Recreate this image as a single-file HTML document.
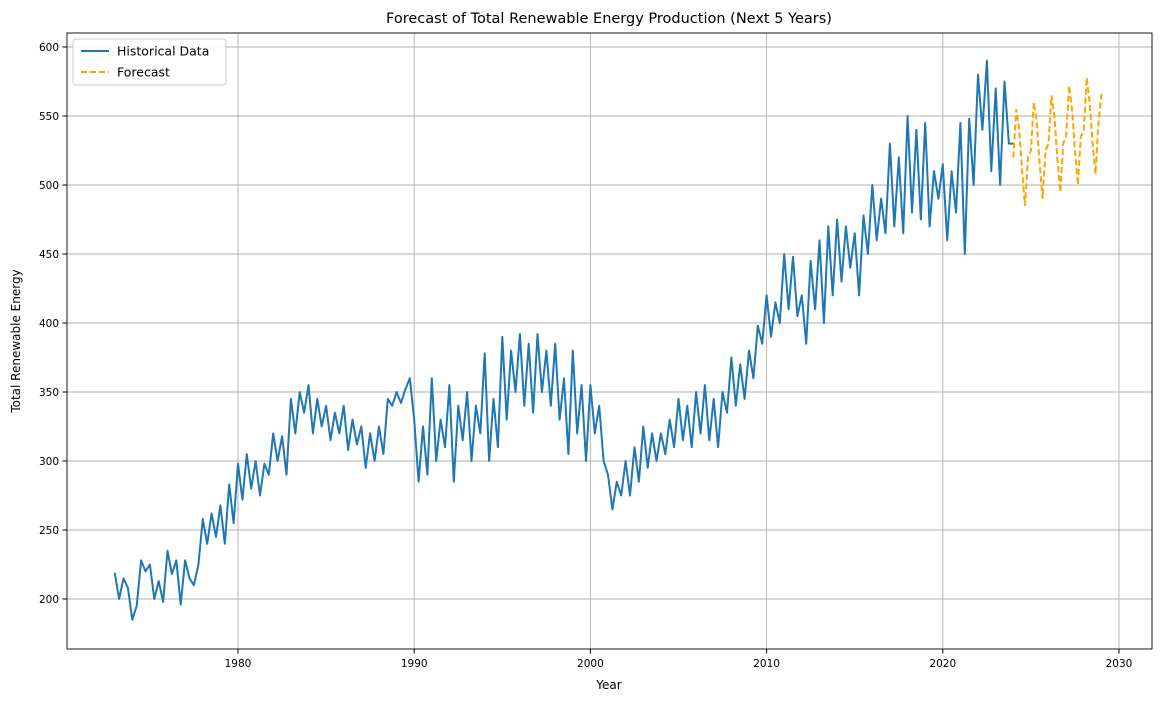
<!DOCTYPE html>
<html><head><meta charset="utf-8"><style>
body{margin:0;background:#fff;font-family:"Liberation Sans","DejaVu Sans",sans-serif;}
</style></head><body>
<svg id="chart" width="1160" height="701" xmlns="http://www.w3.org/2000/svg" font-family="'DejaVu Sans','Liberation Sans',sans-serif">
<rect width="1160" height="701" fill="#fff"/>
<text x="609" y="23" text-anchor="middle" font-size="14.5">Forecast of Total Renewable Energy Production (Next 5 Years)</text>
<text x="609" y="689" text-anchor="middle" font-size="12">Year</text>
<text x="20" y="341" text-anchor="middle" font-size="12" transform="rotate(-90 20 341)">Total Renewable Energy</text>
<g id="grid"></g><g id="ticks"></g><g id="series"></g>
<rect x="67" y="33" width="1085" height="616" fill="none" stroke="#000" stroke-width="0.9"/>
<g>
<rect x="73" y="39" width="153" height="46" rx="3" fill="#fff" fill-opacity="0.85" stroke="#ccc"/>
<line x1="81" y1="51" x2="109" y2="51" stroke="#1f77b4" stroke-width="2"/>
<text x="117" y="55.5" font-size="12.5">Historical Data</text>
<line x1="81" y1="72" x2="109" y2="72" stroke="orange" stroke-width="2" stroke-dasharray="6,3"/>
<text x="117" y="76.5" font-size="12.5">Forecast</text>
</g>
</svg>
<script>
const xTicks=[1980,1990,2000,2010,2020,2030];
const yTicks=[200,250,300,350,400,450,500,550,600];
const histStart=1973, histStep=0.25;
const histValues=[219,200,215,208,185,195,228,220,225,200,213,198,235,218,228,196,228,215,210,225,258,240,262,245,268,240,283,255,298,272,305,280,300,275,298,290,320,300,318,290,345,320,350,335,355,320,345,325,340,315,335,320,340,308,330,312,325,295,320,300,325,305,345,340,350,342,352,360,330,285,325,290,360,300,330,310,355,285,340,315,350,300,340,320,378,300,345,310,390,330,380,350,392,340,385,335,392,350,380,340,385,330,360,305,380,320,355,300,355,320,340,300,290,265,285,275,300,275,310,285,325,295,320,300,320,305,330,310,345,315,340,310,350,320,355,315,345,310,350,335,375,340,370,345,380,360,398,385,420,390,415,400,450,410,448,405,420,385,445,410,460,400,470,420,475,430,470,440,465,420,478,450,500,460,490,465,530,470,520,465,550,480,540,475,545,470,510,490,515,460,510,480,545,450,548,500,580,540,590,510,570,500,575,530,530];
const fcStart=2024, fcStep=1/6;
const fcValues=[520,555,540,510,485,520,525,560,545,515,490,525,530,565,550,520,495,530,535,572,555,525,500,535,540,578,560,530,508,545,566];
const X=y=>238+(y-1980)*17.62;
const Y=v=>599-(v-200)*1.38;
const NS="http://www.w3.org/2000/svg";
const mk=(t,a,p)=>{const e=document.createElementNS(NS,t);for(const k in a)e.setAttribute(k,a[k]);p.appendChild(e);return e;};
const grid=document.getElementById('grid'),ticks=document.getElementById('ticks'),ser=document.getElementById('series');
xTicks.forEach(t=>{const x=X(t);
const g=mk('line',{x1:x,x2:x,y1:33,y2:649,stroke:'#b0b0b0','stroke-width':0.9},grid);


mk('line',{x1:x,x2:x,y1:649,y2:653.5,stroke:'#000'},ticks);
const tx=mk('text',{x:x,y:667,'text-anchor':'middle','font-size':10.5},ticks);tx.textContent=t;

});
yTicks.forEach(t=>{const y=Y(t);
const g=mk('line',{x1:67,x2:1152,y1:y,y2:y,stroke:'#b0b0b0','stroke-width':0.9},grid);


mk('line',{x1:62.5,x2:67,y1:y,y2:y,stroke:'#000'},ticks);
const tx=mk('text',{x:59,y:y+4,'text-anchor':'end','font-size':10.5},ticks);tx.textContent=t;

});
const hp=histValues.map((v,i)=>X(histStart+i*histStep).toFixed(1)+','+Y(v).toFixed(1)).join(' ');
const h=mk('polyline',{points:hp,fill:'none',stroke:'#1f77b4','stroke-width':2,'stroke-linejoin':'round'},ser);


const fp=fcValues.map((v,i)=>X(fcStart+i*fcStep).toFixed(1)+','+Y(v).toFixed(1)).join(' ');
const f=mk('polyline',{points:fp,fill:'none',stroke:'orange','stroke-width':2,'stroke-dasharray':'6,3'},ser);


</script>
</body></html>
